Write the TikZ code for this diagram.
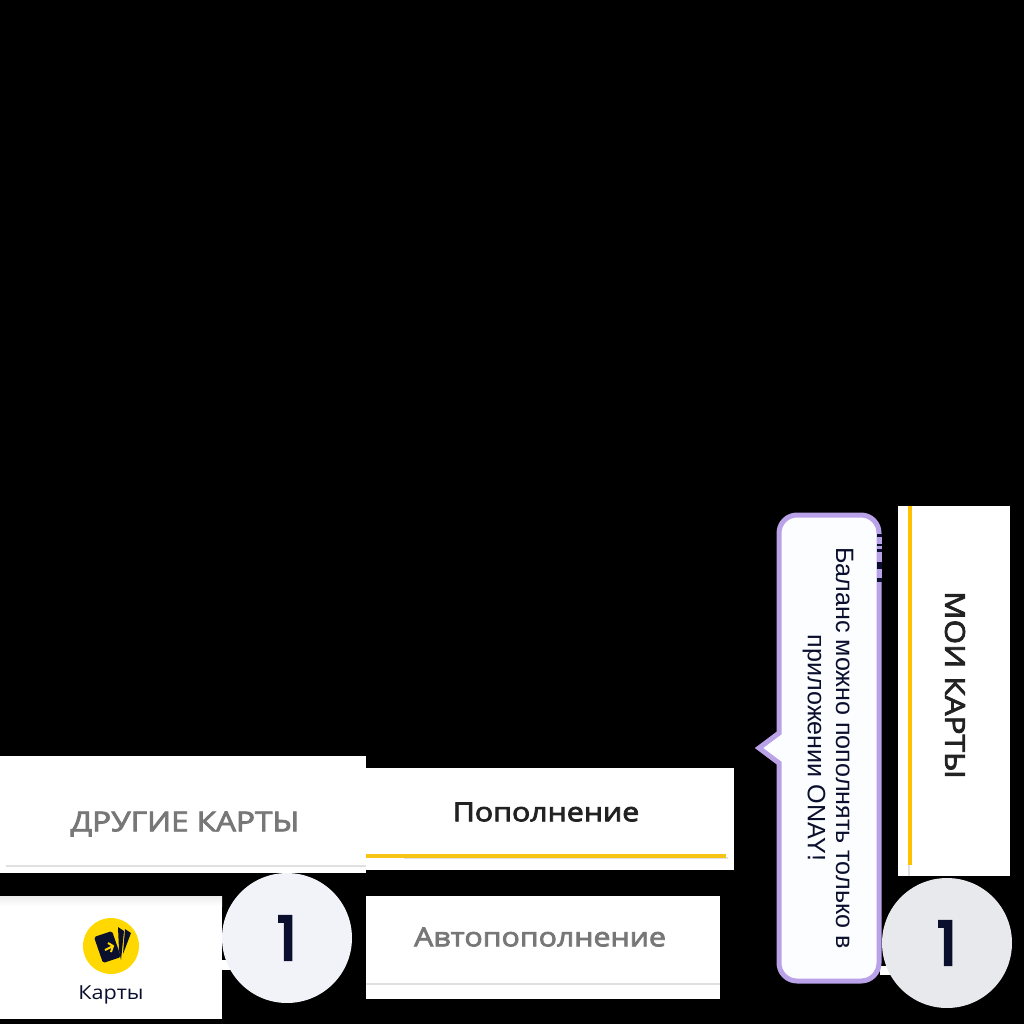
\documentclass[tikz,border=0pt]{standalone}
\usepackage{fontspec}
\setmainfont{Open Sans}
\newfontfamily\tabfont[FakeStretch=1.15,FakeBold=3]{Open Sans}
\newfontfamily\capfont[FakeStretch=1.12]{Open Sans}
\newfontfamily\tipfont{Liberation Sans}
\newfontfamily\numfont[FakeBold=5]{Poppins}
\usetikzlibrary{positioning, calc}
\definecolor{cardgold}{HTML}{FFD800}
\definecolor{bargold}{HTML}{F7C316}
\definecolor{sidegold}{HTML}{FFC000}
\definecolor{inknavy}{HTML}{0B0F2E}
\definecolor{dkgray}{HTML}{222222}
\definecolor{mdgray}{HTML}{777777}
\definecolor{rulegray}{HTML}{E0E0E0}
\definecolor{tiplilac}{HTML}{B9A2E8}
\definecolor{tipfill}{HTML}{FCFDFF}
\definecolor{badgelight}{HTML}{F2F3F9}
\definecolor{badgegray}{HTML}{E8E9ED}

\begin{document}
\begin{tikzpicture}[
  x=0.02cm, y=-0.02cm,
  tab/.style={font=\tabfont\fontsize{#1}{18}\selectfont, inner sep=0pt},
  rulegrey/.style={rulegray, line width=0.04cm},
  badge/.style={circle, fill=#1, inner sep=0pt, minimum size=2.6cm,
    font=\numfont\fontsize{34}{34}\selectfont, text=inknavy},
]

% === BACKGROUND ===
\useasboundingbox (0,0) rectangle (1024,1024);
\fill[black] (0,0) rectangle (1024,1024);

% === TABS (left) ===
\fill[white] (0,756) rectangle (366,873);
\draw[rulegrey] (6,866) -- (366,866);
\node[tab=15.6, text=mdgray] (othercards) at (185,824) {ДРУГИЕ КАРТЫ};

\fill[white] (366,768) rectangle (734,870);
\draw[rulegrey] (404,858) -- (728,858);
\draw[bargold, line width=0.08cm] (366,856) -- (726,856);
\node[tab=15, text=dkgray] (topup) at (546,812) {Пополнение};

\fill[white] (366,896) rectangle (720,999);
\draw[rulegrey] (366,984) -- (720,984);
\node[tab=15, text=mdgray] (autotopup) at (540,937) {Автопополнение};

% === CARDS BUTTON ===
\fill[white] (0,896) rectangle (222,1019);
\fill[white] (222,960) rectangle (232,970);
\shade[top color=rulegray!60, bottom color=white] (0,896) rectangle (222,906);
\node[circle, fill=cardgold, minimum size=1.12cm, inner sep=0pt] (cardicon) at (111,946) {};
\begin{scope}[shift={(cardicon.center)}]
  \fill[inknavy] (14,-17) -- (20,-13) -- (12,8) -- cycle;
  \fill[inknavy] (7,-19) -- (13,-15) -- (10,14) -- (8,4) -- cycle;
  \fill[inknavy, rounded corners=1pt] (-17,-9) -- (1,-15) -- (10,11) -- (-8,17) -- cycle;
  \draw[cardgold, line width=0.04cm] (-6,4) -- (2,0);
  \draw[cardgold, line width=0.04cm] (-3,-3) -- (2,0) -- (0,6);
\end{scope}
\node[font=\capfont\fontsize{11}{13}\selectfont, text=inknavy, inner sep=0pt] (cardslabel) at (111,995) {Карты};

\node[badge=badgelight] (badgeleft) at (287,938) {\raisebox{-3pt}{1}};

% === MY CARDS (right) ===
\fill[white] (898,506) rectangle (1010,876);
\draw[rulegrey] (909,865) -- (909,876);
\fill[sidegold] (908,506) rectangle (912,865);
\node[tab=15.6, text=dkgray, rotate=-90] (mycards) at (955,685) {МОИ КАРТЫ};

% === HINT BUBBLE ===
\fill[white] (880,966) rectangle (892,975);
\draw[tiplilac, fill=tipfill, line width=0.1cm, rounded corners=0.36cm]
  (779,733) -- (779,515) -- (879,515) -- (879,981) -- (779,981) -- (779,790)
  [sharp corners] -- (779,763) -- (759,748) -- cycle;
\fill[inknavy] (877,534) rectangle (882,582);
\foreach \yy/\hh in {537/7, 546/3, 552/10, 569/9} {
  \fill[tiplilac] (877,\yy) rectangle (882,\yy+\hh);
}
\node[rotate=-90, align=center, text=inknavy, inner sep=0pt,
  font=\tipfont\fontsize{14.3}{16}\selectfont] (hinttext) at (828,748)
  {Баланс можно пополнять только в\\приложении ONAY!};

\node[badge=badgegray] (badgeright) at (947,943) {\raisebox{-3pt}{1}};

\end{tikzpicture}
\end{document}
